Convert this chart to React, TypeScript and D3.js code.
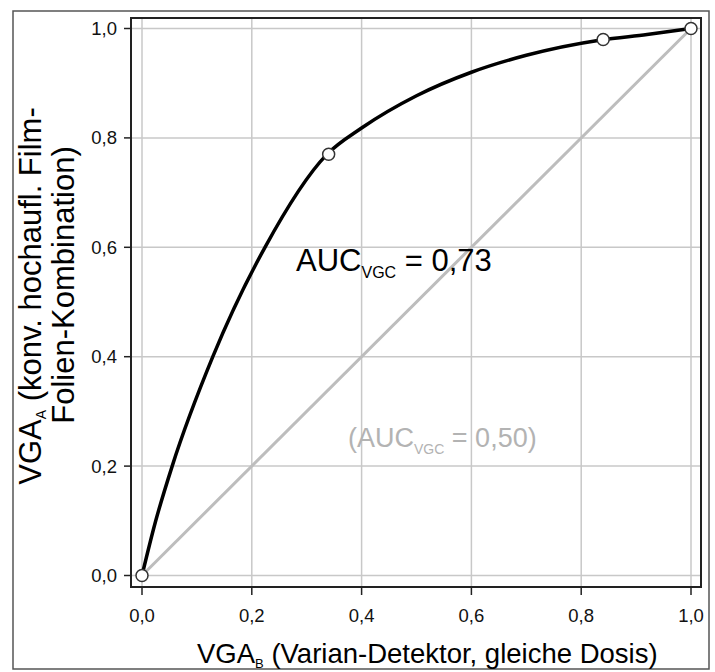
import React from 'react';
import * as d3 from 'd3';

// fitted ROC curve
const curveX = [0, 0.025, 0.055, 0.129, 0.224, 0.336, 0.4, 0.5, 0.6, 0.7, 0.836, 0.92, 1];
const curveY = [0, 0.1, 0.2, 0.4, 0.6, 0.769, 0.818, 0.877, 0.92, 0.951, 0.979, 0.989, 1];

// measured operating points
const pointX = [0, 0.34, 0.84, 1];
const pointY = [0, 0.77, 0.98, 1];

const ticks = [0, 0.2, 0.4, 0.6, 0.8, 1];

const W = 715, H = 672;
const FONT = "'Liberation Sans', Arial, sans-serif";

const fmt = d3.formatLocale({ decimal: ',', thousands: '.', grouping: [3], currency: ['', '€'] }).format('.1f');

export default function App() {
    const x = d3.scaleLinear().domain([0, 1]).range([142, 691]);
    const y = d3.scaleLinear().domain([0, 1]).range([575.5, 28.5]);

    const box = { left: 131, top: 18, right: 701, bottom: 587 };

    const line = d3.line<number>()
        .x((d, i) => x(curveX[i]))
        .y((d, i) => y(curveY[i]))
        .curve(d3.curveMonotoneX);

    return (
        <svg width={W} height={H} style={{ position: 'absolute', left: 0, top: 0, background: '#fff' }}
            fontFamily={FONT}>
            <rect x={0} y={0} width={W} height={H} fill="#fff" />
            <rect x={13} y={11} width={696} height={658} fill="none" stroke="#555" strokeWidth={1.5} />

            {/* grid */}
            {ticks.map(t => (
                <g key={'g' + t}>
                    <line x1={x(t)} x2={x(t)} y1={box.top} y2={box.bottom} stroke="#c8c8c8" strokeWidth={1.5} />
                    <line x1={box.left} x2={box.right} y1={y(t)} y2={y(t)} stroke="#c8c8c8" strokeWidth={1.5} />
                </g>
            ))}

            {/* chance diagonal */}
            <line x1={x(0)} y1={y(0)} x2={x(1)} y2={y(1)} stroke="#bdbdbd" strokeWidth={3} />

            <path d={line(curveX) || ''} fill="none" stroke="#000" strokeWidth={3.5} />

            {pointX.map((px, i) => (
                <circle key={'p' + i} cx={x(px)} cy={y(pointY[i])} r={6} fill="#fff" stroke="#333" strokeWidth={1.5} />
            ))}

            <rect x={box.left} y={box.top} width={box.right - box.left} height={box.bottom - box.top}
                fill="none" stroke="#222" strokeWidth={2} />

            {/* axes */}
            {ticks.map(t => (
                <g key={'x' + t}>
                    <line x1={x(t)} x2={x(t)} y1={box.bottom} y2={box.bottom + 8} stroke="#222" strokeWidth={1.5} />
                    <text x={x(t)} y={622} textAnchor="middle" fontSize={18.5} fill="#111">{fmt(t)}</text>
                </g>
            ))}
            {ticks.map(t => (
                <g key={'y' + t}>
                    <line x1={box.left - 7} x2={box.left} y1={y(t)} y2={y(t)} stroke="#222" strokeWidth={1.5} />
                    <text x={117} y={y(t) + 6.5} textAnchor="end" fontSize={18.5} fill="#111">{fmt(t)}</text>
                </g>
            ))}

            {/* annotations */}
            <text x={296} y={271} fontSize={31} fill="#000">
                AUC<tspan fontSize={16} dy={7}>VGC</tspan><tspan dy={-7}> = 0,73</tspan>
            </text>
            <text x={348} y={447} fontSize={27} fill="#b3b3b3">
                (AUC<tspan fontSize={14} dy={7}>VGC</tspan><tspan dy={-7}> = 0,50)</tspan>
            </text>

            {/* axis titles */}
            <text x={197} y={663} fontSize={27.5} fill="#000">
                VGA<tspan fontSize={13} dy={5}>B</tspan><tspan dy={-5}> (Varian-Detektor, gleiche Dosis)</tspan>
            </text>
            <g transform="translate(41,296) rotate(-90)">
                <text x={0} y={0} textAnchor="middle" fontSize={31} fill="#000">
                    VGA<tspan fontSize={14} dy={5}>A</tspan><tspan dy={-5}> (konv. hochaufl. Film-</tspan>
                </text>
            </g>
            <g transform="translate(74,285) rotate(-90)">
                <text x={0} y={0} textAnchor="middle" fontSize={31} fill="#000">Folien-Kombination)</text>
            </g>
        </svg>
    );
}
